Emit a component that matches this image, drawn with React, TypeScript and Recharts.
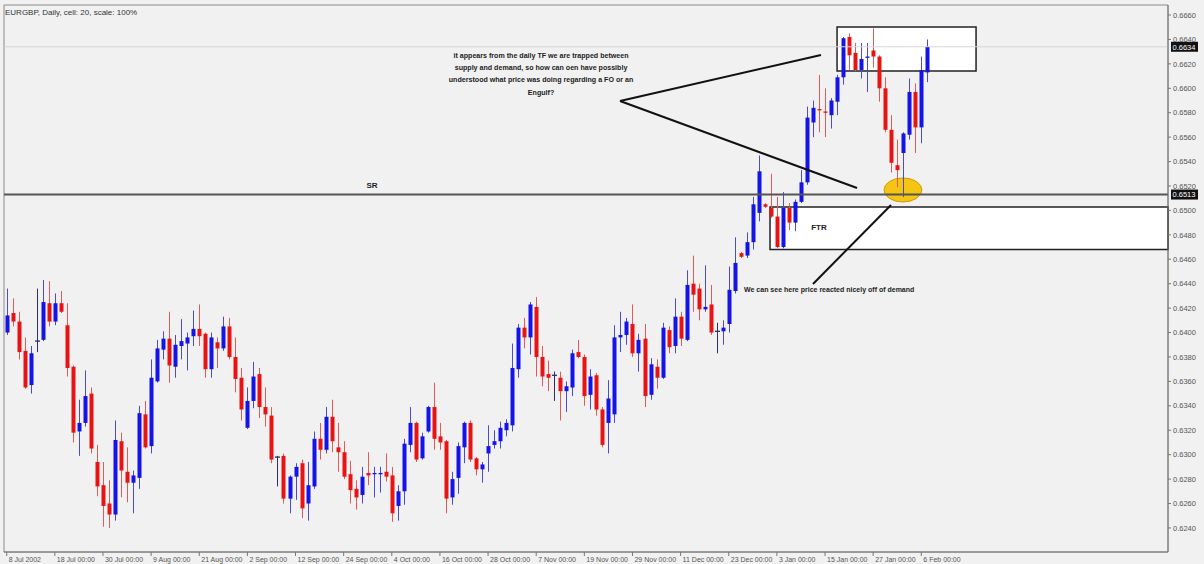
import React from 'react';
import { ComposedChart, Bar, XAxis, YAxis, ReferenceLine, ReferenceArea, ReferenceDot } from 'recharts';

// ---- data (EURGBP daily, bar index 0 = 8 Jul 2002) ----
const OPEN = [
  0.6400, 0.6416, 0.6409, 0.6385, 0.6357, 0.6393, 0.6394, 0.6424, 0.6409, 0.6424,
  0.6406, 0.6372, 0.6319, 0.6326, 0.6350, 0.6294, 0.6275, 0.6260, 0.6251, 0.6311,
  0.6286, 0.6277, 0.6281, 0.6333, 0.6307, 0.6360, 0.6386, 0.6395, 0.6372, 0.6389,
  0.6391, 0.6397, 0.6403, 0.6399, 0.6370, 0.6392, 0.6387, 0.6405, 0.6380, 0.6363,
  0.6322, 0.6344, 0.6366, 0.6339, 0.6332, 0.6298, 0.6299, 0.6264, 0.6282, 0.6293,
  0.6260, 0.6274, 0.6313, 0.6304, 0.6331, 0.6306, 0.6302, 0.6284, 0.6272, 0.6267,
  0.6285, 0.6284, 0.6284, 0.6286, 0.6283, 0.6258, 0.6270, 0.6308, 0.6326, 0.6297,
  0.6319, 0.6339, 0.6315, 0.6311, 0.6265, 0.6281, 0.6306, 0.6326, 0.6297, 0.6288,
  0.6301, 0.6308, 0.6311, 0.6320, 0.6324, 0.6370, 0.6404, 0.6396, 0.6421, 0.6380,
  0.6366, 0.6365, 0.6363, 0.6352, 0.6355, 0.6384, 0.6380, 0.6349, 0.6365, 0.6337,
  0.6326, 0.6333, 0.6396, 0.6398, 0.6407, 0.6383, 0.6395, 0.6349, 0.6372, 0.6363,
  0.6402, 0.6389, 0.6413, 0.6394, 0.6440, 0.6436, 0.6419, 0.6423, 0.6401, 0.6401,
  0.6407, 0.6434, 0.6465, 0.6463, 0.6474, 0.6498, 0.6505, 0.6502, 0.6495, 0.6470,
  0.6502, 0.6490, 0.6507, 0.6523, 0.6572, 0.6583, 0.6581, 0.6578, 0.6589, 0.6609,
  0.6642, 0.6629, 0.6615, 0.6625, 0.6631, 0.6626, 0.6600, 0.6566, 0.6537, 0.6547,
  0.6562, 0.6597, 0.6568, 0.6613,
];
const HIGH = [
  0.6436, 0.6428, 0.6417, 0.6396, 0.6389, 0.6436, 0.6443, 0.6442, 0.6432, 0.6434,
  0.6424, 0.6373, 0.6345, 0.6369, 0.6355, 0.6308, 0.6294, 0.6279, 0.6328, 0.6318,
  0.6306, 0.6287, 0.6340, 0.6344, 0.6378, 0.6394, 0.6401, 0.6417, 0.6398, 0.6411,
  0.6400, 0.6418, 0.6423, 0.6400, 0.6400, 0.6396, 0.6413, 0.6412, 0.6396, 0.6371,
  0.6355, 0.6376, 0.6371, 0.6355, 0.6339, 0.6299, 0.6301, 0.6283, 0.6293, 0.6296,
  0.6294, 0.6319, 0.6326, 0.6339, 0.6345, 0.6326, 0.6311, 0.6295, 0.6279, 0.6290,
  0.6302, 0.6290, 0.6290, 0.6301, 0.6290, 0.6275, 0.6313, 0.6339, 0.6327, 0.6318,
  0.6340, 0.6359, 0.6326, 0.6312, 0.6286, 0.6310, 0.6327, 0.6328, 0.6298, 0.6294,
  0.6324, 0.6320, 0.6327, 0.6329, 0.6391, 0.6407, 0.6412, 0.6425, 0.6429, 0.6389,
  0.6377, 0.6368, 0.6368, 0.6360, 0.6386, 0.6394, 0.6382, 0.6370, 0.6367, 0.6339,
  0.6361, 0.6406, 0.6417, 0.6412, 0.6423, 0.6399, 0.6407, 0.6379, 0.6378, 0.6408,
  0.6405, 0.6428, 0.6417, 0.6451, 0.6463, 0.6440, 0.6455, 0.6439, 0.6408, 0.6410,
  0.6454, 0.6478, 0.6466, 0.6482, 0.6511, 0.6545, 0.6506, 0.6530, 0.6511, 0.6515,
  0.6506, 0.6509, 0.6533, 0.6585, 0.6590, 0.6611, 0.6600, 0.6592, 0.6611, 0.6642,
  0.6645, 0.6637, 0.6637, 0.6637, 0.6649, 0.6627, 0.6609, 0.6578, 0.6558, 0.6564,
  0.6608, 0.6604, 0.6626, 0.6640,
];
const LOW = [
  0.6398, 0.6405, 0.6378, 0.6354, 0.6350, 0.6384, 0.6393, 0.6405, 0.6406, 0.6416,
  0.6364, 0.6310, 0.6299, 0.6323, 0.6301, 0.6266, 0.6241, 0.6240, 0.6246, 0.6265,
  0.6261, 0.6252, 0.6272, 0.6305, 0.6301, 0.6359, 0.6378, 0.6359, 0.6363, 0.6378,
  0.6369, 0.6389, 0.6389, 0.6363, 0.6363, 0.6371, 0.6385, 0.6378, 0.6351, 0.6328,
  0.6321, 0.6338, 0.6330, 0.6323, 0.6293, 0.6274, 0.6260, 0.6252, 0.6263, 0.6248,
  0.6246, 0.6272, 0.6296, 0.6301, 0.6302, 0.6286, 0.6280, 0.6260, 0.6255, 0.6260,
  0.6275, 0.6265, 0.6269, 0.6278, 0.6245, 0.6246, 0.6259, 0.6302, 0.6294, 0.6296,
  0.6318, 0.6304, 0.6304, 0.6252, 0.6259, 0.6268, 0.6293, 0.6294, 0.6283, 0.6277,
  0.6286, 0.6305, 0.6305, 0.6315, 0.6319, 0.6363, 0.6387, 0.6382, 0.6364, 0.6356,
  0.6352, 0.6344, 0.6328, 0.6335, 0.6348, 0.6379, 0.6340, 0.6337, 0.6332, 0.6306,
  0.6301, 0.6326, 0.6384, 0.6390, 0.6380, 0.6368, 0.6339, 0.6345, 0.6354, 0.6362,
  0.6383, 0.6383, 0.6389, 0.6393, 0.6417, 0.6410, 0.6417, 0.6398, 0.6383, 0.6390,
  0.6400, 0.6432, 0.6461, 0.6461, 0.6468, 0.6491, 0.6502, 0.6494, 0.6469, 0.6469,
  0.6484, 0.6483, 0.6506, 0.6521, 0.6560, 0.6564, 0.6560, 0.6567, 0.6578, 0.6603,
  0.6615, 0.6614, 0.6608, 0.6597, 0.6617, 0.6589, 0.6564, 0.6531, 0.6519, 0.6511,
  0.6558, 0.6547, 0.6555, 0.6605,
];
const CLOSE = [
  0.6414, 0.6409, 0.6384, 0.6355, 0.6383, 0.6393, 0.6425, 0.6409, 0.6424, 0.6417,
  0.6371, 0.6318, 0.6326, 0.6348, 0.6305, 0.6274, 0.6258, 0.6251, 0.6312, 0.6287,
  0.6277, 0.6283, 0.6334, 0.6306, 0.6363, 0.6387, 0.6395, 0.6373, 0.6390, 0.6393,
  0.6396, 0.6403, 0.6397, 0.6370, 0.6396, 0.6387, 0.6405, 0.6380, 0.6362, 0.6337,
  0.6344, 0.6364, 0.6339, 0.6333, 0.6296, 0.6298, 0.6264, 0.6282, 0.6290, 0.6256,
  0.6275, 0.6313, 0.6304, 0.6331, 0.6311, 0.6302, 0.6282, 0.6271, 0.6265, 0.6282,
  0.6283, 0.6285, 0.6285, 0.6282, 0.6252, 0.6270, 0.6309, 0.6326, 0.6296, 0.6315,
  0.6339, 0.6313, 0.6310, 0.6264, 0.6280, 0.6307, 0.6326, 0.6296, 0.6288, 0.6292,
  0.6307, 0.6311, 0.6322, 0.6326, 0.6371, 0.6404, 0.6396, 0.6423, 0.6380, 0.6364,
  0.6363, 0.6365, 0.6352, 0.6356, 0.6383, 0.6380, 0.6348, 0.6364, 0.6337, 0.6308,
  0.6346, 0.6396, 0.6398, 0.6409, 0.6383, 0.6394, 0.6348, 0.6374, 0.6363, 0.6404,
  0.6388, 0.6413, 0.6395, 0.6439, 0.6431, 0.6419, 0.6421, 0.6400, 0.6401, 0.6404,
  0.6435, 0.6457, 0.6462, 0.6474, 0.6505, 0.6532, 0.6503, 0.6495, 0.6470, 0.6502,
  0.6490, 0.6507, 0.6523, 0.6576, 0.6584, 0.6582, 0.6580, 0.6590, 0.6609, 0.6641,
  0.6627, 0.6615, 0.6624, 0.6626, 0.6626, 0.6600, 0.6566, 0.6539, 0.6533, 0.6563,
  0.6597, 0.6568, 0.6615, 0.6634,
];

const X_TICK_INDEX = [0, 8, 16, 24, 32, 40, 48, 56, 64, 72, 80, 88, 96, 104, 112, 120, 128, 136, 144, 152];
const X_TICK_LABELS = [
  '8 Jul 2002', '18 Jul 00:00', '30 Jul 00:00', '9 Aug 00:00', '21 Aug 00:00', '2 Sep 00:00',
  '12 Sep 00:00', '24 Sep 00:00', '4 Oct 00:00', '16 Oct 00:00', '28 Oct 00:00', '7 Nov 00:00',
  '19 Nov 00:00', '29 Nov 00:00', '11 Dec 00:00', '23 Dec 00:00', '3 Jan 00:00', '15 Jan 00:00',
  '27 Jan 00:00', '6 Feb 00:00',
];
const Y_TICKS = [
  0.6240, 0.6260, 0.6280, 0.6300, 0.6320, 0.6340, 0.6360, 0.6380, 0.6400, 0.6420, 0.6440,
  0.6460, 0.6480, 0.6500, 0.6520, 0.6540, 0.6560, 0.6580, 0.6600, 0.6620, 0.6640, 0.6660,
];

const X_DOMAIN: [number, number] = [-0.45, 193];
const Y_DOMAIN: [number, number] = [0.62203, 0.66682];

const SR_LEVEL = 0.6513;
const LAST_PRICE = 0.6634;

// annotation anchors in chart coordinates (bar index, price)
const SUPPLY_BOX = { x1: 138.0, x2: 161.1, y1: 0.66142, y2: 0.66502 };
const FTR_BOX = { x1: 126.86, x2: 193, y1: 0.6468, y2: 0.65028 };
const ELLIPSE_BOX = { x1: 145.8, x2: 152.1, y1: 0.65069, y2: 0.65266 };
const ARROW_VERTEX = { x: 101.93, y: 0.65896 };
const ARROW_UP_END = { x: 135.33, y: 0.66272 };
const ARROW_DOWN_END = { x: 141.32, y: 0.65184 };
const DEMAND_LINE = [{ x: 146.97, y: 0.65044 }, { x: 134.0, y: 0.64398 }];
const QUESTION_AT = { x: 88.8, y: 0.66248 };
const QUESTION_LINES = [
  'it appears from the daily TF we are trapped between',
  'supply and demand, so how can oen have possibly',
  'understood what price was doing regarding a FO or an',
  'Engulf?',
];
const SR_TEXT_AT = { x: 60.7, y: 0.65184 };
const FTR_TEXT_AT = { x: 135.0, y: 0.64840 };
const DEMAND_TEXT_AT = { x: 122.54, y: 0.64332 };
const DEMAND_TEXT = 'We can see here price reacted nicely off of demand';

const data = OPEN.map((o, i) => ({
  idx: i,
  open: o,
  high: HIGH[i],
  low: LOW[i],
  close: CLOSE[i],
  range: [LOW[i], HIGH[i]],
}));

const FONT = '"Liberation Sans", Arial, sans-serif';
const BULL = '#1414e8';
const BEAR = '#e81414';
const BULL_WICK = '#4b4bd2';
const BEAR_WICK = '#e05a5a';
const DOJI = '#2e2e6e';

function Candle(props: any) {
  const { x, y, width, height, payload } = props;
  if (x == null || y == null || !payload) return null;
  const top = Math.min(y, y + height);
  const span = Math.abs(height);
  const hi = payload.high;
  const lo = payload.low;
  const toY = (v: number) => (hi === lo ? top : top + ((hi - v) / (hi - lo)) * span);
  const ci = Math.round(x + width / 2);
  const o = payload.open;
  const c = payload.close;
  const doji = Math.abs(c - o) < 1e-9;
  const up = c > o;
  const bTop = toY(Math.max(o, c));
  const bBot = toY(Math.min(o, c));
  const body = doji ? DOJI : up ? BULL : BEAR;
  const wick = doji ? DOJI : up ? BULL_WICK : BEAR_WICK;
  return (
    <g>
      <line x1={ci + 0.5} x2={ci + 0.5} y1={top} y2={top + span} stroke={wick} strokeWidth={1} />
      {doji ? (
        <line x1={ci - 2} x2={ci + 3} y1={bTop} y2={bTop} stroke={body} strokeWidth={1.3} />
      ) : (
        <rect x={ci - 1.5} y={bTop} width={4} height={Math.max(1.3, bBot - bTop)} fill={body} />
      )}
    </g>
  );
}

function XTick(props: any) {
  const { x, y, payload } = props;
  const k = X_TICK_INDEX.indexOf(payload.value);
  return (
    <text x={x + 2} y={y} dy={5.5} fontSize={7} fill="#555" fontFamily={FONT} textAnchor="start">
      {k >= 0 ? X_TICK_LABELS[k] : ''}
    </text>
  );
}

const PriceTag = (label: string) => (p: any) => (
  <g>
    <rect x={p.cx + 3} y={p.cy - 5} width={27} height={10} fill="#111" />
    <text x={p.cx + 4.5} y={p.cy + 2.8} fontSize={7.5} fill="#fff" fontFamily={FONT}>
      {label}
    </text>
  </g>
);

const EllipseShape = (p: any) => {
  const x = Math.min(p.x, p.x + p.width);
  const y = Math.min(p.y, p.y + p.height);
  const w = Math.abs(p.width);
  const h = Math.abs(p.height);
  return <ellipse cx={x + w / 2} cy={y + h / 2} rx={w / 2} ry={h / 2} fill="#f6c514" stroke="#c99a10" strokeWidth={1} />;
};

const QuestionText = (p: any) => (
  <text x={p.cx} y={p.cy} textAnchor="middle" fontSize={7.1} fontWeight="bold" fill="#1c1c1c" fontFamily={FONT}>
    {QUESTION_LINES.map((l, k) => (
      <tspan key={k} x={p.cx} dy={k === 0 ? 0 : 12.2}>
        {l}
      </tspan>
    ))}
  </text>
);

const Label = (txt: string, size: number, anchor: 'start' | 'middle') => (p: any) => (
  <text x={p.cx} y={p.cy} textAnchor={anchor} fontSize={size} fontWeight="bold" fill="#222" fontFamily={FONT}>
    {txt}
  </text>
);

export default function App() {
  return (
    <div style={{ position: 'absolute', left: 0, top: 0, width: 1204, height: 564, background: '#f1f1f1', overflow: 'hidden' }}>
      <ComposedChart width={1204} height={564} data={data} margin={{ top: 5, right: 0, bottom: 0, left: 4 }}>
        <XAxis
          dataKey="idx"
          type="number"
          domain={X_DOMAIN}
          allowDataOverflow
          ticks={X_TICK_INDEX}
          interval={0}
          tick={<XTick />}
          tickSize={4}
          tickMargin={0}
          tickLine={{ stroke: '#777' }}
          axisLine={{ stroke: '#777' }}
          height={12}
        />
        <YAxis
          orientation="right"
          type="number"
          domain={Y_DOMAIN}
          allowDataOverflow
          ticks={Y_TICKS}
          interval={0}
          tickFormatter={(v: number) => v.toFixed(4)}
          tick={{ fontSize: 7.5, fill: '#555', fontFamily: FONT }}
          tickSize={3}
          tickMargin={2}
          tickLine={{ stroke: '#777' }}
          axisLine={{ stroke: '#777' }}
          width={36}
        />
        <ReferenceArea x1={X_DOMAIN[0]} x2={X_DOMAIN[1]} y1={Y_DOMAIN[0]} y2={Y_DOMAIN[1]} fill="none" stroke="#8a8a8a" ifOverflow="visible" />
        <ReferenceArea x1={FTR_BOX.x1} x2={FTR_BOX.x2} y1={FTR_BOX.y1} y2={FTR_BOX.y2} fill="#ffffff" fillOpacity={1} stroke="#222" strokeWidth={1.5} />
        <ReferenceArea x1={SUPPLY_BOX.x1} x2={SUPPLY_BOX.x2} y1={SUPPLY_BOX.y1} y2={SUPPLY_BOX.y2} fill="#ffffff" fillOpacity={1} stroke="#222" strokeWidth={1.5} />
        <ReferenceArea x1={ELLIPSE_BOX.x1} x2={ELLIPSE_BOX.x2} y1={ELLIPSE_BOX.y1} y2={ELLIPSE_BOX.y2} shape={EllipseShape} />
        <ReferenceLine y={LAST_PRICE} stroke="#d6d6d6" strokeWidth={1} />
        <ReferenceLine y={SR_LEVEL} stroke="#555" strokeWidth={2} />
        <Bar dataKey="range" barSize={4} shape={<Candle />} isAnimationActive={false} />
        <ReferenceLine segment={[ARROW_VERTEX, ARROW_UP_END]} stroke="#111" strokeWidth={2} ifOverflow="visible" />
        <ReferenceLine segment={[ARROW_VERTEX, ARROW_DOWN_END]} stroke="#111" strokeWidth={2} ifOverflow="visible" />
        <ReferenceLine segment={DEMAND_LINE} stroke="#111" strokeWidth={2} ifOverflow="visible" />
        <ReferenceDot x={QUESTION_AT.x} y={QUESTION_AT.y} r={1} shape={QuestionText} />
        <ReferenceDot x={SR_TEXT_AT.x} y={SR_TEXT_AT.y} r={1} shape={Label('SR', 8, 'middle')} />
        <ReferenceDot x={FTR_TEXT_AT.x} y={FTR_TEXT_AT.y} r={1} shape={Label('FTR', 8, 'middle')} />
        <ReferenceDot x={DEMAND_TEXT_AT.x} y={DEMAND_TEXT_AT.y} r={1} shape={Label(DEMAND_TEXT, 7, 'start')} />
        <ReferenceDot x={X_DOMAIN[1]} y={LAST_PRICE} r={1} shape={PriceTag('0.6634')} ifOverflow="visible" />
        <ReferenceDot x={X_DOMAIN[1]} y={SR_LEVEL} r={1} shape={PriceTag('0.6513')} ifOverflow="visible" />
      </ComposedChart>
      <div style={{ position: 'absolute', left: 5, top: 8, fontSize: 8, fontFamily: FONT, color: '#333', lineHeight: '10px', pointerEvents: 'none' }}>
        EURGBP, Daily, cell: 20, scale: 100%
      </div>
    </div>
  );
}
